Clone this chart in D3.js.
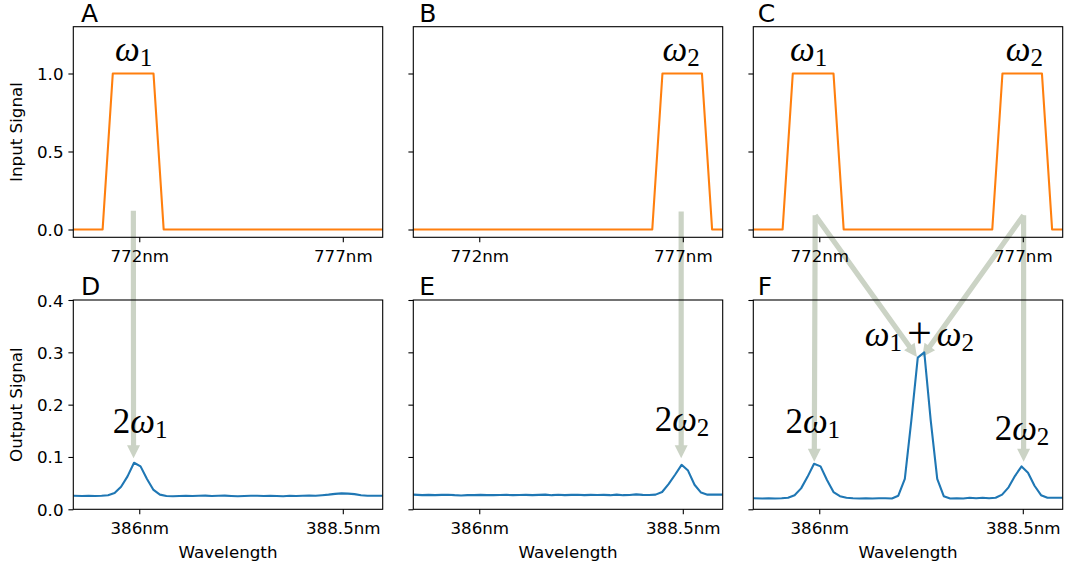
<!DOCTYPE html>
<html><head><meta charset="utf-8">
<script src="https://cdn.jsdelivr.net/npm/d3@7"></script>
<style>body{margin:0;background:#fff}svg{display:block}</style>
</head><body><div id="chart"></div>
<script>
// ---------- DATA ----------
const panelLetters = ["A", "B", "C", "D", "E", "F"];

// input spectra (top row): breakpoints of the pulses
const inWavelength = [770.38, 771.10, 771.35, 772.35, 772.60, 776.25, 776.50, 777.47, 777.72, 777.98];
const inputA = [0, 0, 1, 1, 0, 0, 0, 0, 0, 0];
const inputB = [0, 0, 0, 0, 0, 0, 1, 1, 0, 0];
const inputC = [0, 0, 1, 1, 0, 0, 1, 1, 0, 0];

// output spectra (bottom row)
const outWavelength = [385.19, 385.299, 385.378, 385.458, 385.538, 385.617, 385.697, 385.777, 385.856, 385.936,
  386.016, 386.095, 386.175, 386.254, 386.334, 386.414, 386.493, 386.573, 386.653, 386.732,
  386.812, 386.892, 386.971, 387.051, 387.131, 387.210, 387.290, 387.369, 387.449, 387.529,
  387.608, 387.688, 387.768, 387.847, 387.927, 388.007, 388.086, 388.166, 388.246, 388.325,
  388.405, 388.485, 388.564, 388.644, 388.724, 388.803, 388.883, 388.99];
const outputD = [0.026, 0.0255, 0.026, 0.0255, 0.026, 0.027, 0.031, 0.043, 0.063, 0.089,
  0.082, 0.058, 0.037, 0.028, 0.0255, 0.025, 0.0255, 0.026, 0.0255, 0.026,
  0.0262, 0.0255, 0.026, 0.0262, 0.0255, 0.025, 0.0255, 0.026, 0.026, 0.0255,
  0.026, 0.0255, 0.025, 0.026, 0.0255, 0.026, 0.0262, 0.026, 0.027, 0.028,
  0.0295, 0.0305, 0.030, 0.029, 0.027, 0.026, 0.026, 0.026];
const outputE = [0.028, 0.027, 0.0275, 0.027, 0.0275, 0.0278, 0.027, 0.0265, 0.027, 0.027,
  0.0275, 0.027, 0.027, 0.0272, 0.0275, 0.027, 0.0272, 0.0275, 0.027, 0.0275,
  0.028, 0.027, 0.0278, 0.027, 0.0275, 0.0278, 0.027, 0.0275, 0.0272, 0.0275,
  0.027, 0.028, 0.027, 0.0272, 0.0285, 0.0275, 0.0272, 0.028, 0.033, 0.048,
  0.066, 0.085, 0.074, 0.047, 0.032, 0.028, 0.028, 0.028];
const outputF = [0.021, 0.0205, 0.021, 0.0205, 0.021, 0.022, 0.027, 0.040, 0.062, 0.087,
  0.082, 0.056, 0.033, 0.025, 0.022, 0.021, 0.0205, 0.021, 0.0205, 0.021,
  0.0212, 0.0205, 0.026, 0.058, 0.17, 0.29, 0.30, 0.17, 0.058, 0.025,
  0.0205, 0.021, 0.0205, 0.022, 0.021, 0.022, 0.021, 0.022, 0.028, 0.042,
  0.064, 0.082, 0.070, 0.045, 0.027, 0.022, 0.022, 0.022];

const inXTicks = [772, 777];
const inXTickLabels = ["772nm", "777nm"];
const outXTicks = [386, 388.5];
const outXTickLabels = ["386nm", "388.5nm"];
const inYTicks = [0, 0.5, 1.0];
const inYTickLabels = ["0.0", "0.5", "1.0"];
const outYTicks = [0, 0.1, 0.2, 0.3, 0.4];
const outYTickLabels = ["0.0", "0.1", "0.2", "0.3", "0.4"];
const inYLabel = "Input Signal";
const outYLabel = "Output Signal";
const xLabel = "Wavelength";

// annotation arrows: [panel, wavelength, signal]
const arrowFrom = [[0, 771.855, 0.12], [1, 776.96, 0.115], [2, 771.90, 0.092], [2, 771.90, 0.092], [2, 777.02, 0.092], [2, 777.02, 0.092]];
const arrowTo = [[3, 385.93, 0.0975], [4, 388.48, 0.0975], [5, 385.939, 0.091], [5, 387.20, 0.291], [5, 387.265, 0.291], [5, 388.51, 0.091]];

// math labels
const labelPanel = [0, 1, 2, 2, 3, 4, 5, 5, 5];
const labelX = [771.86, 776.96, 771.74, 777.04, 386.01, 388.49, 385.92, 388.49, 387.23];
const labelY = [1.077, 1.077, 1.077, 1.077, 0.146, 0.150, 0.145, 0.132, 0.312];
const labelText = ["ω_1", "ω_2", "ω_1", "ω_2", "2ω_1", "2ω_2", "2ω_1", "2ω_2", "ω_1 + ω_2"];

// ---------- LAYOUT ----------
const WIDTH = 1065, HEIGHT = 572;
const colX = [73.3, 413.3, 753.3];
const PW = 309.4;
const rowY = [26.7, 300];
const PH = [210.6, 209.3];
const letterDx = [7.7, 6, 4.4];
const ORANGE = "#ff7f0e", BLUE = "#1f77b4", ARROW = "#cbd3c5";
const SANS = "DejaVu Sans";
const MATH = "Liberation Serif";

const svg = d3.select("#chart").append("svg").attr("width", WIDTH).attr("height", HEIGHT);

const xIn = d3.scaleLinear().domain([770.38, 777.98]).range([0, PW]);
const yIn = d3.scaleLinear().domain([-0.05, 1.3]).range([PH[0], 0]);
const xOut = d3.scaleLinear().domain([385.19, 388.99]).range([0, PW]);
const yOut = d3.scaleLinear().domain([0, 0.4]).range([PH[1], 0]);

const panels = [0, 1, 2, 3, 4, 5].map(i => {
  const row = i < 3 ? 0 : 1, col = i % 3;
  return { i, row, col, x0: colX[col], y0: rowY[row], xs: row ? xOut : xIn, ys: row ? yOut : yIn };
});
function toPage(p, x, y) { const P = panels[p]; return [P.x0 + P.xs(x), P.y0 + P.ys(y)]; }

// ---------- ARROWS (underneath) ----------
const arrowLayer = svg.append("g");
arrowFrom.forEach((f, k) => {
  const t = arrowTo[k];
  const [x1, y1] = toPage(f[0], f[1], f[2]);
  const [x2, y2] = toPage(t[0], t[1], t[2]);
  const dx = x2 - x1, dy = y2 - y1, L = Math.hypot(dx, dy);
  const ux = dx / L, uy = dy / L, px = -uy, py = ux;
  const w = 2.6, hw = 6.5, hl = 13;
  const bx = x2 - ux * hl, by = y2 - uy * hl;
  const pts = [[x1 + px * w, y1 + py * w], [bx + px * w, by + py * w], [bx + px * hw, by + py * hw], [x2, y2],
    [bx - px * hw, by - py * hw], [bx - px * w, by - py * w], [x1 - px * w, y1 - py * w]];
  arrowLayer.append("polygon").attr("points", pts.map(p => p.join(",")).join(" ")).attr("fill", ARROW);
});

// ---------- PANELS ----------
const inputs = [inputA, inputB, inputC];
const outputs = [outputD, outputE, outputF];

panels.forEach(P => {
  const g = svg.append("g").attr("transform", `translate(${P.x0},${P.y0})`);
  const H = PH[P.row];
  const clipId = "clip" + P.i;
  g.append("clipPath").attr("id", clipId).append("rect").attr("width", PW).attr("height", H);

  const line = d3.line().x(d => P.xs(d[0])).y(d => P.ys(d[1]));
  let data, color;
  if (P.row === 0) { data = inWavelength.map((w, j) => [w, inputs[P.col][j]]); color = ORANGE; }
  else { data = outWavelength.map((w, j) => [w, outputs[P.col][j]]); color = BLUE; }
  g.append("path").datum(data).attr("d", line).attr("fill", "none").attr("stroke", color)
    .attr("stroke-width", 2.1).attr("stroke-linejoin", "round").attr("clip-path", `url(#${clipId})`);

  // axes
  const xt = P.row ? outXTicks : inXTicks, xl = P.row ? outXTickLabels : inXTickLabels;
  const yt = P.row ? outYTicks : inYTicks, yl = P.row ? outYTickLabels : inYTickLabels;
  const xAxis = d3.axisBottom(P.xs).tickValues(xt).tickFormat((d, j) => xl[j]).tickSize(4.9).tickPadding(4.9);
  const yAxis = d3.axisLeft(P.ys).tickValues(yt).tickFormat((d, j) => P.col === 0 ? yl[j] : "").tickSize(4.9).tickPadding(4.9);
  const gx = g.append("g").attr("transform", `translate(0,${H})`).call(xAxis);
  const gy = g.append("g").call(yAxis);
  [gx, gy].forEach(a => {
    a.select(".domain").remove();
    a.selectAll(".tick line").attr("stroke", "#000").attr("stroke-width", 1.1);
    a.selectAll(".tick text").attr("fill", "#000").attr("font-family", SANS).attr("font-size", 16.7);
  });
  gx.selectAll(".tick text").attr("y", 13).attr("dy", "0.71em");
  gy.selectAll(".tick text").attr("dy", "0.36em");

  g.append("rect").attr("width", PW).attr("height", H).attr("fill", "none").attr("stroke", "#000").attr("stroke-width", 1.1);

  // panel letter
  g.append("text").attr("x", letterDx[P.col]).attr("y", -5).text(panelLetters[P.i])
    .attr("font-family", SANS).attr("font-size", 25).attr("fill", "#000");

  if (P.col === 0) {
    g.append("text").attr("transform", `translate(${-51},${H / 2}) rotate(-90)`).attr("text-anchor", "middle")
      .attr("font-family", SANS).attr("font-size", 16.7).attr("fill", "#000").text(P.row ? outYLabel : inYLabel);
  }
  if (P.row === 1) {
    g.append("text").attr("x", PW / 2).attr("y", H + 49).attr("text-anchor", "middle")
      .attr("font-family", SANS).attr("font-size", 16.7).attr("fill", "#000").text(xLabel);
  }
});

// ---------- MATH LABELS ----------
function addMath(sel, str) {
  const tokens = [];
  for (let i = 0; i < str.length; i++) {
    const c = str[i];
    if (c === "_") { tokens.push({ t: str[i + 1], sub: true }); i++; }
    else if (c === " ") tokens.push({ space: true });
    else tokens.push({ t: c, it: c === "ω", big: c === "+" });
  }
  let pend = 0, cur = 0;
  tokens.forEach(tk => {
    if (tk.space) { pend += 5; return; }
    const target = tk.sub ? 5 : (tk.big ? 2 : 0);
    const ts = sel.append("tspan").text(tk.t).attr("dy", target - cur).attr("dx", pend);
    cur = target; pend = 0;
    if (tk.sub) ts.attr("font-size", 25);
    if (tk.big) ts.attr("font-size", 44).attr("font-weight", 300);
    if (tk.it) ts.attr("font-style", "italic");
  });
}
const labelLayer = svg.append("g");
labelText.forEach((s, k) => {
  const [x, y] = toPage(labelPanel[k], labelX[k], labelY[k]);
  const t = labelLayer.append("text").attr("x", x).attr("y", y).attr("text-anchor", "middle")
    .attr("font-family", MATH).attr("font-size", 35).attr("fill", "#000");
  addMath(t, s);
});
</script>
</body></html>
